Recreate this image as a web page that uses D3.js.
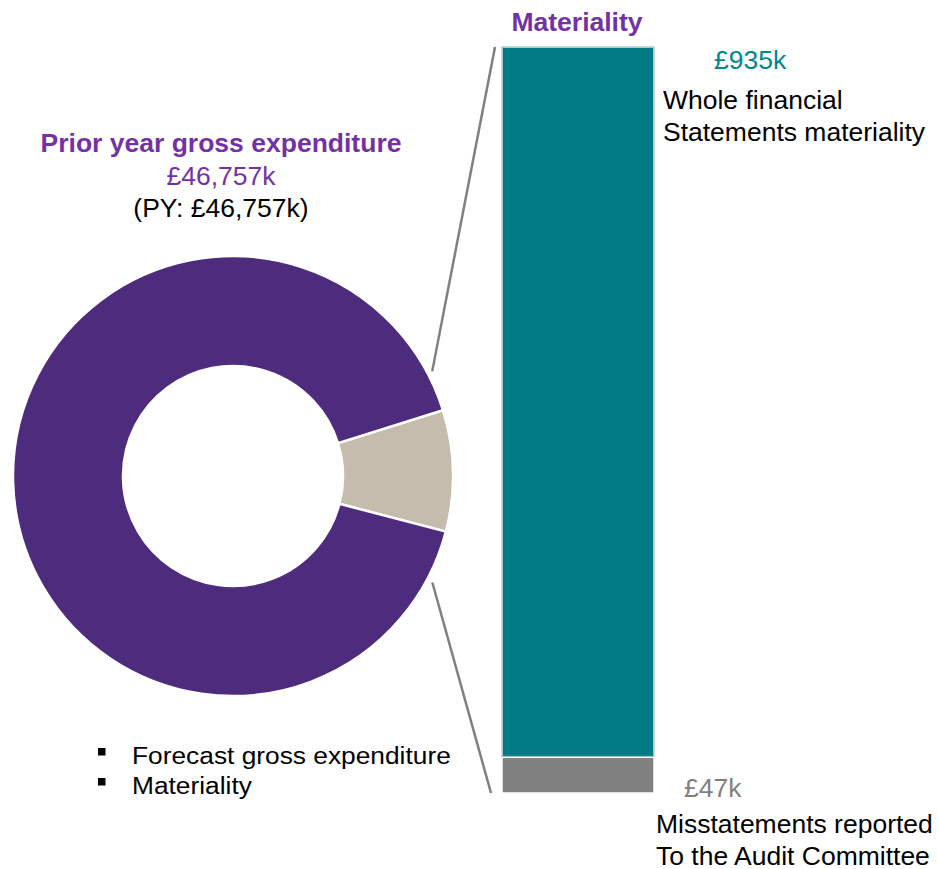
<!DOCTYPE html>
<html><head><meta charset="utf-8">
<script src="https://cdn.jsdelivr.net/npm/d3@7"></script>
<style>body{margin:0;background:#fff}svg{display:block}text{font-family:"Liberation Sans",Arial,sans-serif}</style>
</head><body>
<script>
// Donut slices (share of ring)
const donutCategories = ["Materiality", "Forecast gross expenditure"];
const donutShares = [8.9, 91.1];
const donutColors = ["#C5BCAE", "#4E2C7D"];
// Stacked bar (£k)
const barCategories = ["Whole financial Statements materiality", "Misstatements reported To the Audit Committee"];
const barValues = [935, 47];
const barColors = ["#027A83", "#808080"];
const barValueLabels = ["£935k", "£47k"];
const titleLines = ["Prior year gross expenditure", "£46,757k", "(PY: £46,757k)"];
const legendItems = ["Forecast gross expenditure", "Materiality"];

const W = 938, H = 869;
const svg = d3.select("body").append("svg").attr("width", W).attr("height", H);

function addText(x, y, str, fs, sx, opts = {}) {
  return svg.append("text")
    .attr("transform", `translate(${x},${y}) scale(${sx},1)`)
    .attr("text-anchor", opts.anchor || "start")
    .attr("font-size", fs)
    .attr("font-weight", opts.bold ? "bold" : "normal")
    .attr("fill", opts.fill || "#000")
    .text(str);
}

// Donut
const cx = 233, cy = 476, R = 220, r = 110;
const startA = 72.6 * Math.PI / 180;
const pie = d3.pie().sort(null).value(d => d).startAngle(startA).endAngle(startA + 2 * Math.PI);
const arc = d3.arc().innerRadius(r).outerRadius(R);
const g = svg.append("g").attr("transform", `translate(${cx},${cy})`);
g.selectAll("path").data(pie(donutShares)).join("path")
  .attr("d", arc).attr("fill", (d, i) => donutColors[i])
  .attr("stroke", "#fff").attr("stroke-width", 2.5);

// Title
const tx = 221;
addText(tx, 152, titleLines[0], 25.5, 1.04, { anchor: "middle", bold: true, fill: "#7332A4" });
addText(tx, 185, titleLines[1], 25.5, 1.04, { anchor: "middle", fill: "#7332A4" });
addText(tx, 217, titleLines[2], 25.5, 1.04, { anchor: "middle", fill: "#000" });

// Bar
const bx0 = 502, bx1 = 654, byTop = 47, byBot = 793;
const y = d3.scaleLinear().domain([0, d3.sum(barValues)]).range([byBot, byTop]);
let cum = d3.sum(barValues);
const stacked = barValues.map(v => { const top = cum; cum -= v; return { top, bot: cum, v }; });
svg.selectAll("rect.bar").data(stacked).join("rect").attr("class", "bar")
  .attr("x", bx0).attr("width", bx1 - bx0)
  .attr("y", d => y(d.top)).attr("height", d => y(d.bot) - y(d.top))
  .attr("fill", (d, i) => barColors[i])
  .attr("stroke", "#fff").attr("stroke-width", 1.5);
svg.append("rect").attr("x", bx0).attr("y", y(stacked[0].top)).attr("width", bx1 - bx0)
  .attr("height", y(stacked[0].bot) - y(stacked[0].top) - 1).attr("fill", "none")
  .attr("stroke", "#8fb3b6").attr("stroke-width", 1);

addText(577, 31, "Materiality", 25.5, 1.04, { anchor: "middle", bold: true, fill: "#7332A4" });

// Connectors
const ang1 = startA, ang2 = startA + 2 * Math.PI * donutShares[0] / d3.sum(donutShares);
const pt = (a, rad) => [cx + rad * Math.sin(a), cy - rad * Math.cos(a)];
const p1 = pt(ang1 - 0.18, R + 5), p2 = pt(ang2 + 0.235, R + 6);
svg.append("line").attr("x1", p1[0]).attr("y1", p1[1]).attr("x2", 495).attr("y2", y(stacked[0].top))
  .attr("stroke", "#808080").attr("stroke-width", 2.5);
svg.append("line").attr("x1", p2[0]).attr("y1", p2[1]).attr("x2", 491).attr("y2", y(stacked[1].bot))
  .attr("stroke", "#808080").attr("stroke-width", 2.5);

// Bar labels
addText(714, 69, barValueLabels[0], 25.5, 1.04, { fill: "#00878C" });
addText(663, 109, "Whole financial", 25, 1.06);
addText(663, 141, "Statements materiality", 25, 1.06);
addText(684, 797, barValueLabels[1], 25, 1.06, { fill: "#7f7f7f" });
addText(656, 833, "Misstatements reported", 25, 1.06);
addText(656, 865, "To the Audit Committee", 25, 1.06);

// Legend
legendItems.forEach((d, i) => {
  const ly = 764 + i * 30;
  svg.append("rect").attr("x", 98).attr("y", ly - 16).attr("width", 7.5).attr("height", 7.5).attr("fill", "#000");
  addText(132, ly, d, 23.5, 1.12);
});
</script>
</body></html>
